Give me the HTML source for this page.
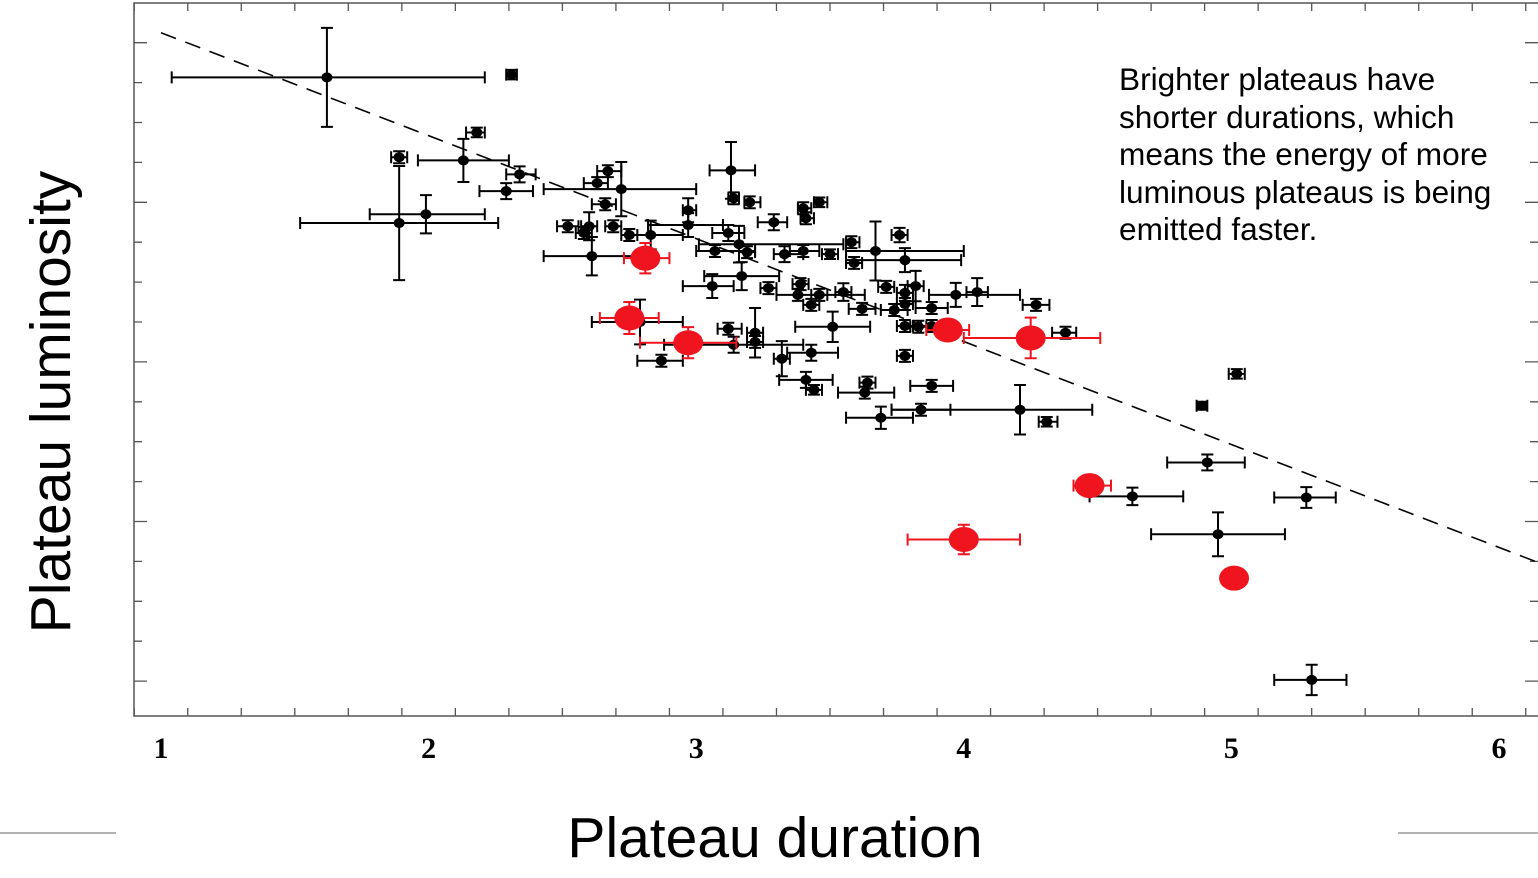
<!DOCTYPE html>
<html><head><meta charset="utf-8"><style>
html,body{margin:0;padding:0;background:#fff}
svg{display:block}
</style></head><body>
<svg id="chart" width="1538" height="878" viewBox="0 0 1538 878" xmlns="http://www.w3.org/2000/svg">
<g id="axes"></g>
<g id="fit"></g>
<g id="marks"></g>
<text x="775" y="857" text-anchor="middle" font-family="Liberation Sans, sans-serif" font-size="57">Plateau duration</text>
<text transform="translate(70,402) rotate(-90)" text-anchor="middle" font-family="Liberation Sans, sans-serif" font-size="57">Plateau luminosity</text>
<g font-family="Liberation Sans, sans-serif" font-size="31.6">
<text x="1119" y="90">Brighter plateaus have</text>
<text x="1119" y="128">shorter durations, which</text>
<text x="1119" y="165">means the energy of more</text>
<text x="1119" y="203">luminous plateaus is being</text>
<text x="1119" y="240">emitted faster.</text>
</g>
<line x1="0" y1="833" x2="116" y2="833" stroke="#666" stroke-width="1"/>
<line x1="1398" y1="833" x2="1538" y2="833" stroke="#666" stroke-width="1"/>
</svg>
<script>
// black sample
const dur   =[1.62,2.31,2.18,1.89,2.13,2.34,2.29,1.99,1.89,2.67,2.63,2.72,3.13,3.14,3.20,2.66,2.97,3.29,3.40,3.46,3.41,2.52,2.60,2.58,2.69,2.75,2.83,2.97,3.12,3.16,3.58,3.76,3.67,2.61,3.07,3.19,3.33,3.40,3.50,3.78,3.59,3.17,3.06,3.27,3.39,3.46,3.55,3.38,3.43,3.71,3.82,3.78,3.97,4.05,3.62,3.74,3.88,3.78,4.27,4.38,2.79,3.12,3.22,3.51,3.78,3.83,3.88,3.14,3.22,2.87,3.32,3.43,3.41,3.44,3.63,3.64,3.88,3.78,3.69,3.84,4.21,4.31,5.02,4.89,4.91,4.63,5.28,4.95,5.30];
const lum   =[16.13,16.2,14.75,14.13,14.05,13.7,13.28,12.7,12.48,13.78,13.48,13.33,13.8,13.1,13.0,12.95,12.8,12.5,12.85,13.0,12.6,12.4,12.4,12.23,12.4,12.18,12.18,12.43,12.23,11.95,12.0,12.18,11.78,11.65,11.78,11.75,11.7,11.78,11.7,11.55,11.48,11.15,10.9,10.85,10.95,10.68,10.75,10.68,10.43,10.88,10.9,10.73,10.68,10.75,10.33,10.3,10.35,10.45,10.43,9.73,10.0,9.83,9.73,9.88,9.9,9.88,9.9,9.43,9.5,9.03,9.08,9.23,8.55,8.3,8.23,8.48,8.4,9.15,7.6,7.8,7.8,7.5,8.7,7.9,6.48,5.63,5.6,4.68,1.03];
const durLo =[1.04,2.29,2.14,1.86,1.96,2.29,2.19,1.78,1.52,2.63,2.58,2.43,3.05,3.12,3.18,2.61,2.95,3.23,3.38,3.44,3.39,2.48,2.57,2.55,2.66,2.72,2.74,2.82,3.06,3.01,3.56,3.73,3.56,2.43,3.00,3.16,3.29,3.35,3.47,3.56,3.56,3.03,2.95,3.24,3.36,3.43,3.52,3.30,3.40,3.68,3.79,3.75,3.87,4.01,3.57,3.69,3.82,3.75,4.22,4.33,2.61,3.08,3.19,3.37,3.75,3.80,3.84,2.88,3.19,2.78,3.29,3.34,3.31,3.41,3.53,3.61,3.80,3.75,3.56,3.73,3.73,4.28,4.99,4.87,4.76,4.47,5.16,4.70,5.16];
const durHi =[2.21,2.33,2.21,1.92,2.30,2.40,2.39,2.21,2.26,2.72,2.67,3.00,3.22,3.16,3.24,2.70,3.00,3.34,3.43,3.49,3.44,2.56,2.63,2.61,2.72,2.78,2.95,3.10,3.18,3.55,3.61,3.79,4.00,2.80,3.22,3.22,3.40,3.46,3.53,3.99,3.62,3.31,3.14,3.30,3.42,3.49,3.58,3.63,3.46,3.74,3.85,3.81,4.21,4.09,3.67,3.79,3.94,3.81,4.32,4.42,2.95,3.17,3.25,3.65,3.81,3.86,3.92,3.40,3.25,2.95,3.35,3.53,3.51,3.47,3.74,3.67,3.96,3.81,3.81,3.95,4.48,4.35,5.05,4.91,5.05,4.82,5.39,5.20,5.43];
const lumErr=[1.24,0.12,0.12,0.15,0.54,0.2,0.2,0.48,1.43,0.15,0.15,0.68,0.71,0.15,0.15,0.15,0.3,0.2,0.15,0.12,0.15,0.15,0.35,0.15,0.15,0.15,0.36,0.3,0.2,0.46,0.15,0.18,0.74,0.48,0.15,0.15,0.2,0.15,0.12,0.3,0.15,0.35,0.3,0.15,0.15,0.15,0.22,0.15,0.15,0.15,0.38,0.2,0.3,0.35,0.15,0.15,0.15,0.15,0.15,0.15,0.56,0.15,0.62,0.38,0.15,0.15,0.15,0.2,0.15,0.15,0.44,0.2,0.2,0.12,0.15,0.15,0.15,0.15,0.28,0.15,0.62,0.12,0.12,0.1,0.2,0.22,0.26,0.55,0.38];
// red sample
const rDur  =[2.81,2.75,2.97,3.94,4.25,4.47,4.00,5.01];
const rLum  =[11.6,10.1,9.48,9.8,9.6,5.9,4.55,3.58];
const rDurLo=[2.73,2.64,2.79,3.86,4.00,4.41,3.79,5.01];
const rDurHi=[2.90,2.86,3.15,4.02,4.51,4.55,4.21,5.01];
const rLumErr=[0.38,0.4,0.39,0.2,0.51,0.15,0.37,0];
const xTicks=[1,2,3,4,5,6];
const fitIntercept=17.25, fitSlope=-2.58;

const NS="http://www.w3.org/2000/svg";
const X0=134,X1=1538,Y0=3,Y1=716;
const sx=v=>161+(v-1)*267.6;
const sy=v=>721-v*39.9;
function el(tag,attrs,parent){const e=document.createElementNS(NS,tag);for(const k in attrs)e.setAttribute(k,attrs[k]);parent.appendChild(e);return e;}
const axes=document.getElementById('axes');
const frame=el('path',{d:`M${X1} ${Y0}H${X0}V${Y1}H${X1}`,fill:'none',stroke:'#555','stroke-width':1.5},axes);


for(let i=0;i<=26;i++){
  const v=0.9+i*0.2, x=sx(v); if(x<X0||x>X1)continue;
  const major=Math.abs(v-Math.round(v))<1e-6;
  const L=major?13:8;
  const t=el('path',{d:`M${x} ${Y1}v${-L}M${x} ${Y0}v${L}`,stroke:'#555','stroke-width':1.3},axes);
  
  
}
xTicks.forEach(v=>{
  const t=el('text',{x:sx(v),y:758,'text-anchor':'middle','font-family':'Liberation Serif, serif','font-weight':'bold','font-size':30},axes);
  t.textContent=v;
  
  
});
for(let k=1;k<=17;k++){
  const y=sy(k); const L=(k%4===1)?13:8;
  const t=el('path',{d:`M${X0} ${y}h${L}M${X1} ${y}h${-L}`,stroke:'#555','stroke-width':1.3},axes);
  
  
}
const fit=document.getElementById('fit');
const fl=el('line',{x1:sx(1),y1:sy(fitIntercept),x2:sx(6.15),y2:sy(fitIntercept+fitSlope*5.15),stroke:'#000','stroke-width':1.6,'stroke-dasharray':'16,10'},fit);



const marks=document.getElementById('marks');
function point(x,y,lo,hi,ye,color,rx,ry,name){
  const g=el('g',{},marks);
  
  
  const px=sx(x),py=sy(y),c=6;
  let d='';
  if(hi>lo){d+=`M${sx(lo)} ${py}H${sx(hi)}M${sx(lo)} ${py-c}v${2*c}M${sx(hi)} ${py-c}v${2*c}`;}
  if(ye>0){const a=sy(y+ye),b=sy(y-ye);d+=`M${px} ${a}V${b}M${px-c} ${a}h${2*c}M${px-c} ${b}h${2*c}`;}
  if(d)el('path',{d:d,stroke:color,'stroke-width':2,fill:'none'},g);
  el('ellipse',{cx:px,cy:py,rx:rx,ry:ry,fill:color},g);
}
dur.forEach((x,i)=>point(x,lum[i],durLo[i],durHi[i],lumErr[i],'#000',5.5,5,'black-point'));
rDur.forEach((x,i)=>point(x,rLum[i],rDurLo[i],rDurHi[i],rLumErr[i],'#f0141e',15,12.5,'red-point'));
</script>
</body></html>
